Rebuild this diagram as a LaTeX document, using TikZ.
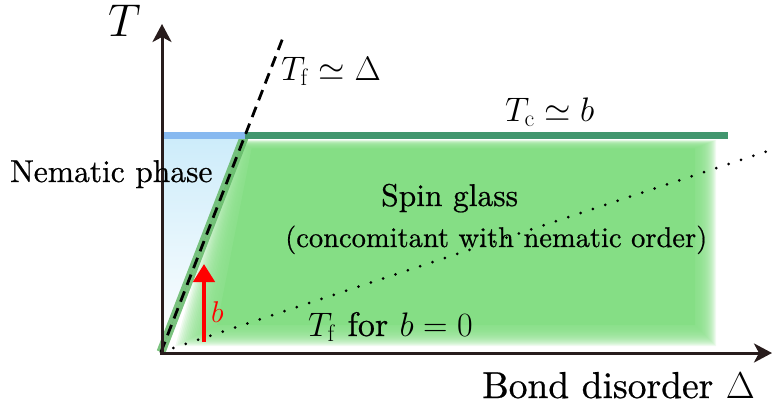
\RequirePackage{fix-cm}
\documentclass[tikz,border=0pt]{standalone}
\usepackage[no-math]{fontspec}
\newfontfamily\lmr{lmroman10-regular}[Extension=.otf, FakeBold=0.6]
\usetikzlibrary{arrows.meta}
\definecolor{axiscol}{RGB}{40,28,28}
\definecolor{spinG}{RGB}{133,222,133}
\definecolor{bandG}{RGB}{100,185,105}
\definecolor{lineG}{RGB}{65,150,110}
\definecolor{lineB}{RGB}{135,185,240}
\definecolor{nemB}{RGB}{205,236,250}
\begin{document}
\begin{tikzpicture}[x=1pt,y=-1pt,
  axisline/.style={draw=axiscol, line width=3pt, -{Stealth[length=18pt,width=19pt,inset=5pt]}},
  lbl/.style={inner sep=0pt, anchor=base west},
  big/.style={font=\lmr\fontsize{31.5}{34}\selectfont},
  layer/.style={fill=spinG, opacity=0.13}]
\useasboundingbox (0,0) rectangle (772,407);
\coordinate (O) at (161,352);
\coordinate (P) at (245,135);
\coordinate (Dtop) at (284,35);
\coordinate (Lend) at (728,135);
\coordinate (Axl) at (161,135);
\coordinate (Dot) at (771,150);
\coordinate (Ytip) at (162,24);
\coordinate (Xtip) at (772,353);
\coordinate (Ra) at (204,342);
\coordinate (Rb) at (204,264);

% nematic blue region
\fill[top color=nemB, bottom color=white] (161,138) -- (244,138) -- (O) -- cycle;

% spin glass green region (blurred)
\begin{scope}
  \clip (O) -- (P) -- (772,120) -- (772,370) -- cycle;
  \foreach \d in {-10,-9,...,10} {
    \fill[layer] ({161+(208+0.4*\d)*0.3871-1.072*\d},{144-0.4*\d}) -- ({706+\d},{144-0.4*\d}) -- ({706+\d},{336+\d}) -- ({161+(16-\d)*0.3871+28-1.6*\d},{336+\d}) -- cycle;
  }
  \fill[spinG] ({161+(208-0.4*11)*0.3871+11.8},{144+0.4*11}) -- (695,{144+0.4*11}) -- (695,325) -- ({161+(27)*0.3871+28+17.6},325) -- cycle;
\end{scope}

% band along T_f line
\draw[bandG, opacity=0.85, line width=9pt] (O) -- (P);
% transition lines
\draw[lineB, line width=7pt] (Axl) -- (P);
\draw[lineG, line width=7pt] (P) -- (Lend);
% dashed T_f line
\draw[black, line width=2.8pt, dash pattern=on 11pt off 7pt] (O) -- (Dtop);
% dotted line
\draw[black, line width=3pt, line cap=round, dash pattern=on 0pt off 13pt] (O) -- (Dot);
% axes
\draw[axisline] (162,353) -- (Ytip);
\draw[axisline] (160,353) -- (Xtip);
% red arrow
\draw[red, line width=4.5pt, -{Triangle[length=18pt,width=21pt]}] (Ra) -- (Rb);

% labels
\node[lbl, font=\fontsize{46}{48}\selectfont] (tT) at (108,36) {$T$};
\node[lbl, font=\lmr\fontsize{37.5}{40}\selectfont] (tX) at (482,398) {Bond disorder $\Delta$};
\node[lbl, big] (tN) at (10,182) {Nematic phase};
\node[lbl, big] (tS) at (381,206) {Spin glass};
\node[lbl, font=\lmr\fontsize{28.5}{32}\selectfont] (tC) at (285,247) {(concomitant with nematic order)};
\node[lbl, font=\fontsize{34}{36}\selectfont] (tF) at (281,80) {$T_{\mathrm{f}}\simeq\Delta$};
\node[lbl, font=\fontsize{34}{36}\selectfont] (tTc) at (505,121) {$T_{\mathrm{c}}\simeq b$};
\node[lbl, font=\lmr\fontsize{34}{36}\selectfont] (tF0) at (308,336) {$T_{\mathrm{f}}$ for $b=0$};
\node[lbl, red, font=\fontsize{30}{32}\selectfont] (tb) at (211,322) {$b$};
\end{tikzpicture}
\end{document}
